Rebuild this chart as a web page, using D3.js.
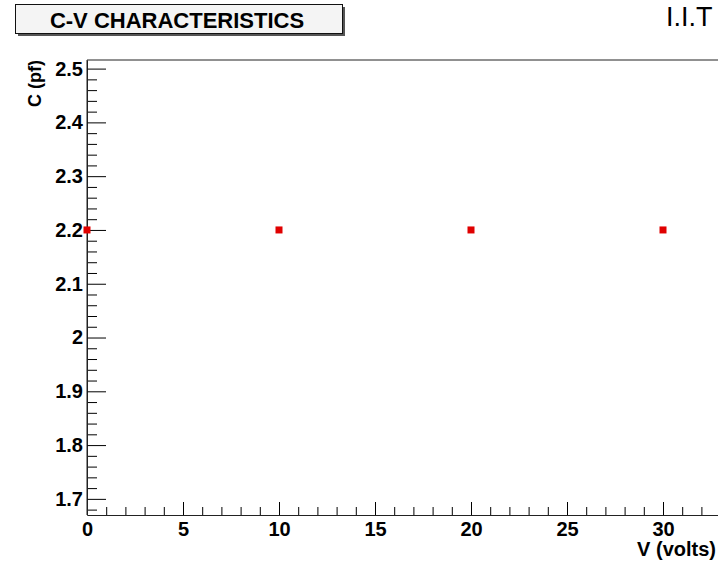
<!DOCTYPE html>
<html>
<head>
<meta charset="utf-8">
<script src="https://cdn.jsdelivr.net/npm/d3@7"></script>
<style>
  body { margin: 0; background: #fff; }
  svg { display: block; }
</style>
</head>
<body>
<div class="cv-plot"></div>
<script>
const width = 718, height = 561;

// data
const voltage = [0, 10, 20, 30];
const capacitance = [2.2, 2.2, 2.2, 2.2];
const xMajorTicks = [0, 5, 10, 15, 20, 25, 30];
const yMajorTicks = [1.7, 1.8, 1.9, 2.0, 2.1, 2.2, 2.3, 2.4, 2.5];

let svg = d3.select('.cv-plot')
    .append('svg')
    .attr('width', width)
    .attr('height', height)
    .style('font-family', '"Liberation Sans", Arial, sans-serif');

let padLeft = 87, padTop = 60, padBottom = 515;
let x_scale = d3.scaleLinear()
    .domain([0, 33])
    .range([padLeft, padLeft + 33 * 19.2]);
let y_scale = d3.scaleLinear()
    .domain([1.67, 2.516])
    .range([padBottom, padTop]);

let xMinor = d3.range(0, 34, 1).filter(v => v % 5 !== 0);
let yMinor = d3.range(1.68, 2.516, 0.02).filter(v => Math.abs(v * 10 - Math.round(v * 10)) > 0.01);

// frame top line
svg.append('line')
    .attr('x1', padLeft).attr('x2', width + 10)
    .attr('y1', padTop).attr('y2', padTop)
    .attr('stroke', '#222');

// minor ticks
svg.append('g')
    .attr('transform', `translate(0, ${padBottom})`)
    .call(d3.axisBottom(x_scale).tickValues(xMinor).tickSize(-8).tickFormat(''))
    .call(g => g.select('.domain').remove());
svg.append('g')
    .attr('transform', `translate(${padLeft}, 0)`)
    .call(d3.axisLeft(y_scale).tickValues(yMinor).tickSize(-10).tickFormat(''))
    .call(g => g.select('.domain').remove());

// major axes
let x_Axis = d3.axisBottom(x_scale)
    .tickValues(xMajorTicks)
    .tickSizeInner(-13)
    .tickSizeOuter(0)
    .tickPadding(7)
    .tickFormat(d => d);
let y_Axis = d3.axisLeft(y_scale)
    .tickValues(yMajorTicks)
    .tickSizeInner(-19)
    .tickSizeOuter(0)
    .tickPadding(4)
    .tickFormat(d => String(+d.toFixed(1)));

svg.append('g')
    .attr('transform', `translate(0, ${padBottom})`)
    .call(x_Axis)
    .call(g => g.selectAll('text').attr('font-size', 20).attr('font-weight', 'bold').attr('fill', '#000'));
svg.append('g')
    .attr('transform', `translate(${padLeft}, 0)`)
    .call(y_Axis)
    .call(g => g.selectAll('text').attr('font-size', 20).attr('font-weight', 'bold').attr('fill', '#000'));

svg.selectAll('.domain').attr('stroke', '#222');
svg.append('line')
    .attr('x1', padLeft).attr('x2', padLeft)
    .attr('y1', padTop).attr('y2', padBottom)
    .attr('stroke', '#222');

// points
svg.append('g')
    .selectAll('rect')
    .data(voltage)
    .join('rect')
    .attr('x', (d, i) => x_scale(d) - 3.5)
    .attr('y', (d, i) => y_scale(capacitance[i]) - 3.5)
    .attr('width', 7)
    .attr('height', 7)
    .attr('fill', '#e00000');

// axis titles
svg.append('text')
    .attr('x', 716)
    .attr('y', 556)
    .attr('text-anchor', 'end')
    .attr('font-size', 20)
    .attr('font-weight', 'bold')
    .text('V (volts)');
svg.append('text')
    .attr('transform', `translate(41, ${padTop}) rotate(-90)`)
    .attr('text-anchor', 'end')
    .attr('font-size', 18)
    .attr('font-weight', 'bold')
    .text('C (pf)');

// title box
svg.append('rect')
    .attr('x', 18).attr('y', 7)
    .attr('width', 327).attr('height', 29)
    .attr('fill', '#555');
svg.append('rect')
    .attr('x', 15.5).attr('y', 4.5)
    .attr('width', 327).attr('height', 29)
    .attr('fill', '#f4f4f4')
    .attr('stroke', '#111');
svg.append('text')
    .attr('x', 177)
    .attr('y', 28)
    .attr('text-anchor', 'middle')
    .attr('font-size', 22)
    .attr('font-weight', 'bold')
    .text('C-V CHARACTERISTICS');

svg.append('text')
    .attr('x', 666)
    .attr('y', 26)
    .attr('font-size', 27)
    .text('I.I.T');
</script>
</body>
</html>
